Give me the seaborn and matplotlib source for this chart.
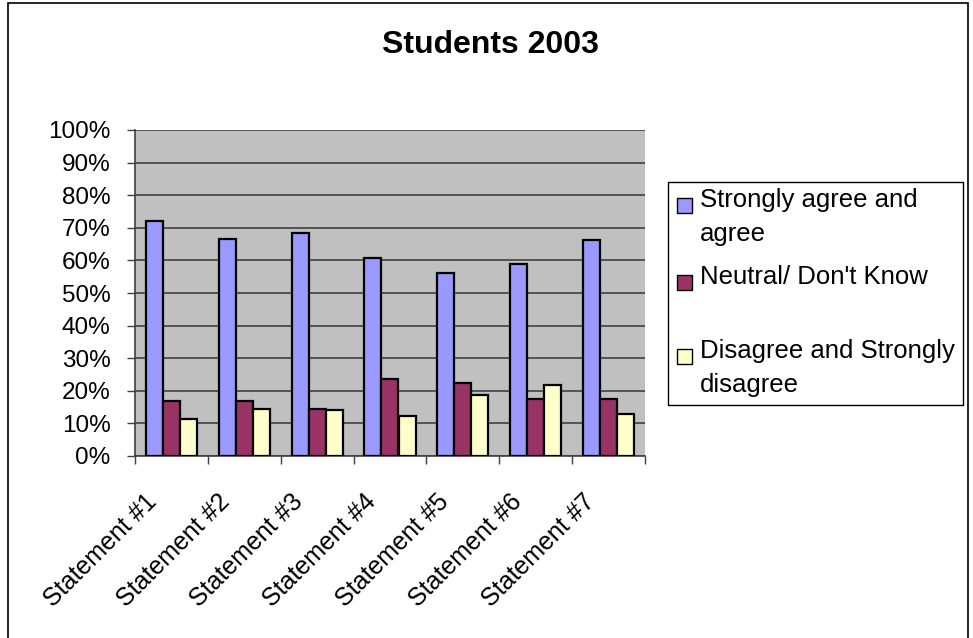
import matplotlib
matplotlib.use("Agg")
import matplotlib.pyplot as plt
from matplotlib.patches import Rectangle
from matplotlib.transforms import ScaledTranslation
import seaborn as sns
import pandas as pd

categories = ["Statement #1", "Statement #2", "Statement #3", "Statement #4",
              "Statement #5", "Statement #6", "Statement #7"]
series_names = ["Strongly agree and\nagree", "Neutral/ Don't Know",
                "Disagree and Strongly\ndisagree"]
agree = [72, 66.5, 68.3, 60.8, 56, 59, 66.3]
neutral = [17, 17, 14.5, 23.6, 22.4, 17.6, 17.6]
disagree = [11.2, 14.5, 14, 12.4, 18.8, 21.8, 13]
colors = ["#9999FF", "#993366", "#FFFFCC"]

df = pd.DataFrame({
    "statement": categories * 3,
    "series": [series_names[0]] * 7 + [series_names[1]] * 7 + [series_names[2]] * 7,
    "value": agree + neutral + disagree,
})

sns.set_style("white")
plt.rcParams["font.family"] = ["Liberation Sans", "DejaVu Sans"]
plt.rcParams["text.color"] = "black"
plt.rcParams["xtick.color"] = "black"
plt.rcParams["ytick.color"] = "black"

W, H = 973, 638
fig = plt.figure(figsize=(W / 100, H / 100), dpi=100)
ax = fig.add_axes([135 / W, 1 - 456 / H, 510 / W, 326 / H])
ax.set_facecolor("#C0C0C0")

sns.barplot(data=df, x="statement", y="value", hue="series", palette=colors,
            saturation=1, width=0.7, gap=0, edgecolor="black", linewidth=1.6,
            legend=False, ax=ax, zorder=3)

ax.set_ylim(0, 100)
ax.set_xlim(-0.5, len(categories) - 0.5)
ax.set_yticks(range(0, 101, 10))
ax.set_yticklabels([f"{v}%" for v in range(0, 101, 10)], fontsize=17.5)
ax.yaxis.grid(True, color="#404040", linewidth=1.2, zorder=0)
ax.set_axisbelow(True)
ax.set_xlabel("")
ax.set_ylabel("")

ax.set_xticks(range(len(categories)))
ax.set_xticklabels(categories, rotation=45, ha="right", va="center",
                   rotation_mode="anchor", fontsize=18)
ax.set_xticks([i - 0.5 for i in range(len(categories) + 1)], minor=True)
ax.tick_params(axis="x", which="major", length=0, pad=30)
ax.tick_params(axis="x", which="minor", length=6, width=1, color="#404040",
               direction="out", bottom=True)
ax.tick_params(axis="y", length=6, width=1, color="#404040", direction="out",
               left=True, pad=11.5)
shift = ScaledTranslation(-0.18, 0, fig.dpi_scale_trans)
for lbl in ax.get_xticklabels():
    lbl.set_transform(lbl.get_transform() + shift)

for side in ["top", "right"]:
    ax.spines[side].set_visible(False)
for side in ["left", "bottom"]:
    ax.spines[side].set_color("#404040")
    ax.spines[side].set_linewidth(1.2)

fig.text(490 / W, 1 - 45 / H, "Students 2003", ha="center", va="center",
         fontsize=23, fontweight="bold")

# legend drawn by hand so the markers line up with the first text line
fig.patches.append(Rectangle((668 / W, 1 - 405 / H), 295 / W, 223 / H,
                             transform=fig.transFigure, facecolor="white",
                             edgecolor="black", linewidth=1))
cap_tops = [193, 270, 344]
for name, color, y in zip(series_names, colors, cap_tops):
    fig.patches.append(Rectangle((677 / W, 1 - (y + 20) / H), 15 / W, 15 / H,
                                 transform=fig.transFigure, facecolor=color,
                                 edgecolor="black", linewidth=1))
    fig.text(700 / W, 1 - (y - 5) / H, name, ha="left", va="top",
             fontsize=18.5, linespacing=1.55)

# outer chart frame
fig.patches.append(Rectangle((8 / W, -0.02), 960 / W, 1.015,
                             transform=fig.transFigure, fill=False,
                             edgecolor="black", linewidth=1.2))

fig.savefig("out.png", dpi=100)
